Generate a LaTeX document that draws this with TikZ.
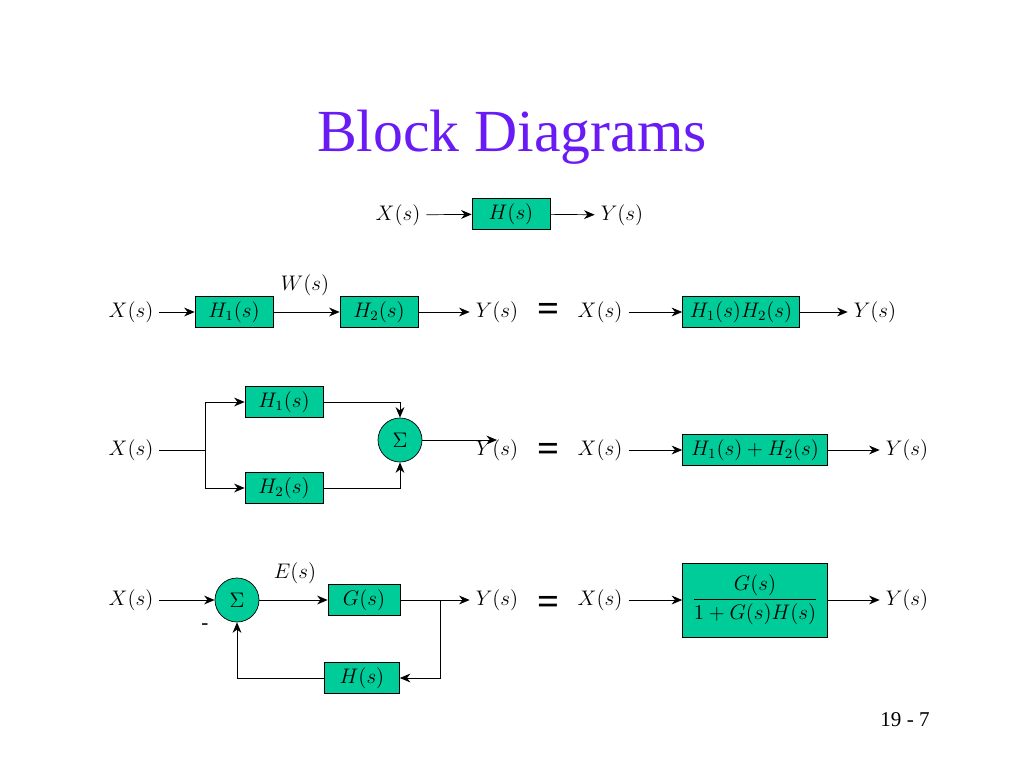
\documentclass[tikz,border=0pt]{standalone}
\usepackage{amsmath}
\usepackage{fontspec}
\setmainfont{Liberation Serif}
\usetikzlibrary{positioning,arrows.meta}
\definecolor{boxgreen}{HTML}{00CC99}
\definecolor{titlepurple}{HTML}{6A1BF5}
\begin{document}
\begin{tikzpicture}[x=0.02cm,y=-0.02cm,font=\fontsize{12}{14}\selectfont]

    % Styles
    \tikzstyle{block} = [rectangle, minimum width=1.56cm, minimum height=0.62cm, text centered, draw=black, fill=boxgreen, inner sep=1pt]
    \tikzstyle{sumnode} = [circle, minimum size=0.88cm, draw=black, fill=boxgreen, inner sep=0pt]
    \tikzstyle{arrow} = [->,>={Stealth[length=6pt,width=5pt]}]
    \tikzstyle{eq} = [font=\fontsize{22}{24}\selectfont\bfseries]

    \useasboundingbox (0,0) rectangle (1024,768);
    \node[text=titlepurple,font=\fontsize{34}{40}\selectfont] (title) at (512,137) {Block Diagrams};

    % Ligne 1
    \node (x1) at (398,215) {$X(s)$};
    \node (h) [block] at (511,214) {$H(s)$};
    \node (y1) at (622,215) {$Y(s)$};
    \draw [arrow] (x1) -- (h);
    \draw [arrow] (h) -- (y1);

    % Ligne 2
    \node (x2) at (131,312) {$X(s)$};
    \node (h1) [block] at (234,312) {$H_1(s)$};
    \node (h2) [block] at (379,312) {$H_2(s)$};
    \node (y2) at (497,312) {$Y(s)$};
    \node (w) at (305,285) {$W(s)$};
    \draw [arrow] (x2) -- (h1);
    \draw [arrow] (h1) -- (h2);
    \draw [arrow] (h2) -- (y2);
    \node (eq2) [eq] at (549,312) {=};
    \node (x2b) at (600,312) {$X(s)$};
    \node (h12) [block, minimum width=2.34cm] at (741,312) {$H_1(s)H_2(s)$};
    \node (y2b) at (875,312) {$Y(s)$};
    \draw [arrow] (x2b) -- (h12);
    \draw [arrow] (h12) -- (y2b);

    % Ligne 3
    \node (x3) at (131,450) {$X(s)$};
    \node (p1) [block] at (284,402) {$H_1(s)$};
    \node (p2) [block] at (284,488) {$H_2(s)$};
    \node (s3) [sumnode] at (400,440) {$\Sigma$};
    \node (y3) at (497,450) {$Y(s)$};
    \coordinate (split) at (205,450);
    \draw (x3) -- (split);
    \draw [arrow] (split) |- (p1);
    \draw [arrow] (split) |- (p2);
    \draw [arrow] (p1) -| (s3);
    \draw [arrow] (p2) -| (s3);
    \draw [arrow] (s3) -- (y3 |- s3);
    \node (eq3) [eq] at (549,452) {=};
    \node (x3b) at (600,450) {$X(s)$};
    \node (hsum) [block, minimum width=2.9cm] at (755,450) {$H_1(s)+H_2(s)$};
    \node (y3b) at (907,450) {$Y(s)$};
    \draw [arrow] (x3b) -- (hsum);
    \draw [arrow] (hsum) -- (y3b);

    % Ligne 4
    \node (x4) at (131,600) {$X(s)$};
    \node (s4) [sumnode] at (237,600) {$\Sigma$};
    \node (g) [block, minimum width=1.44cm] at (364,600) {$G(s)$};
    \node (y4) at (497,600) {$Y(s)$};
    \node (e) at (295,573) {$E(s)$};
    \node (hf) [block, minimum width=1.5cm] at (362,678) {$H(s)$};
    \node (minus) at (205,627) {-};
    \coordinate (tap) at (440,600);
    \draw [arrow] (x4) -- (s4);
    \draw [arrow] (s4) -- (g);
    \draw [arrow] (g) -- (y4);
    \draw [arrow] (tap) |- (hf);
    \draw [arrow] (hf) -| (s4);
    \node (eq4) [eq] at (549,605) {=};
    \node (x4b) at (600,600) {$X(s)$};
    \node (cl) [block, minimum width=2.9cm, minimum height=1.48cm] at (755,600) {$\dfrac{G(s)}{1+G(s)H(s)}$};
    \node (y4b) at (907,600) {$Y(s)$};
    \draw [arrow] (x4b) -- (cl);
    \draw [arrow] (cl) -- (y4b);

    \node (page) at (905,720) {19 - 7};

\end{tikzpicture}
\end{document}
